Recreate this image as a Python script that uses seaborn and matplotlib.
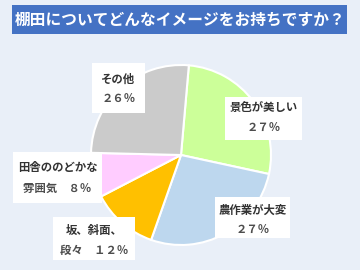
import matplotlib
matplotlib.use("Agg")
import matplotlib.pyplot as plt
import seaborn as sns
from matplotlib.patches import Rectangle

# ---- data ----
title = "棚田についてどんなイメージをお持ちですか？"
categories = ["景色が美しい", "農作業が大変", "坂、斜面、段々", "田舎ののどかな雰囲気", "その他"]
values = [27, 27, 12, 8, 26]
label_line1 = ["景色が美しい", "農作業が大変", "坂、斜面、", "田舎ののどかな", "その他"]
label_line2_prefix = ["", "", "段々　", "雰囲気　", ""]
colors = ["#CCFF99", "#BDD7EE", "#FFC000", "#FFCCFF", "#CBCBCB"]


def fullwidth_pct(n):
    return str(n).translate(str.maketrans("0123456789", "０１２３４５６７８９")) + "％"


# ---- style ----
sns.set_theme(style="white")
plt.rcParams["font.family"] = ["Noto Sans CJK JP", "DejaVu Sans"]
palette = sns.color_palette(colors)

W, H = 360, 270
fig = plt.figure(figsize=(3.6, 2.7), dpi=100)
fig.patch.set_facecolor("#E9EFF8")
ax = fig.add_axes([0, 0, 1, 1])
ax.set_facecolor("#E9EFF8")

ax.pie(values, colors=palette, center=(181, 155), radius=90,
       startangle=-85, counterclock=True,
       wedgeprops=dict(edgecolor="white", linewidth=1.5))
ax.set_xlim(0, W)
ax.set_ylim(H, 0)
ax.set_aspect("auto")
ax.axis("off")

# title banner
ax.add_patch(Rectangle((12, 5), 335, 29, facecolor="#4472C4", edgecolor="none", zorder=3))
ax.text(180, 19.5, title, color="white", fontsize=11.3, fontweight="bold",
        ha="center", va="center", zorder=4)

# label boxes (layout)
box_x = [225, 215, 53, 13, 92]
box_y = [97, 197, 217, 152, 63]
box_w = [77, 75, 82, 89, 53]
box_h = [43, 41, 43, 51, 50]
line1_y = [108, 210, 230, 168, 79]

for i, cat in enumerate(categories):
    ax.add_patch(Rectangle((box_x[i], box_y[i]), box_w[i], box_h[i],
                           facecolor="white", edgecolor="none", zorder=3))
    cx = box_x[i] + box_w[i] / 2
    ax.text(cx, line1_y[i], label_line1[i], color="#333333", fontsize=8.2,
            fontweight="bold", ha="center", va="center", zorder=4)
    ax.text(cx, line1_y[i] + 20, label_line2_prefix[i] + fullwidth_pct(values[i]),
            color="#4d4d4d", fontsize=8.2, fontweight="bold",
            ha="center", va="center", zorder=4)

fig.savefig("out.png", dpi=100, facecolor=fig.get_facecolor())
